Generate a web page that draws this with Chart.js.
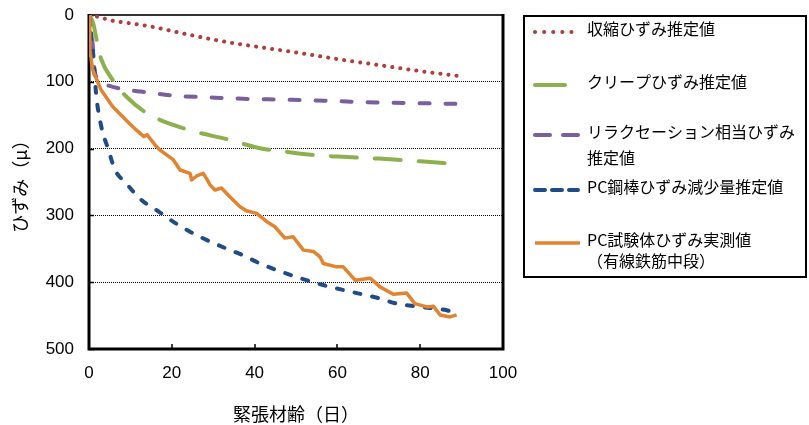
<!DOCTYPE html>
<html>
<head>
<meta charset="utf-8">
<script src="https://cdn.jsdelivr.net/npm/chart.js@4.4.1/dist/chart.umd.min.js"></script>
<style>
  html, body { margin: 0; background: #fff; }
  canvas { display: block; }
</style>
</head>
<body>
<canvas id="chart" width="809" height="425"></canvas>
<script>
// 読み取り値（日, μ）
var shrinkDays = [0, 2, 6, 10, 16, 20, 31, 40, 51, 60, 70, 80, 89];
var shrinkVals = [0, 2.5, 9, 12.5, 18.5, 24, 38, 47, 57, 66, 75, 84, 91];

var creepDays = [0, 1, 2, 3, 5.7, 9, 14, 23, 34, 41, 48, 55, 60, 70, 80, 88.5];
var creepVals = [0, 12, 42, 67, 97, 122, 147, 170, 187, 199, 205, 210, 212, 215, 219, 223];

var relaxDays = [0, 0.5, 0.9, 1.3, 2, 3, 6, 9, 13, 21, 28, 35, 49, 60, 70, 80, 88.5];
var relaxVals = [0, 25, 45, 80, 95, 101, 108, 112, 115, 121, 123, 125, 127, 129, 131, 132, 133];

var barDays = [0, 0.3, 1, 1.7, 2.9, 4.7, 6.3, 9, 12.3, 17, 22, 26.8, 33.3, 37.3, 41.3, 51, 57, 63, 70, 74.3, 80, 86.4, 88.5];
var barVals = [0, 17, 57, 117, 165, 202, 232, 252, 275, 295, 316, 332, 350, 360, 372, 394, 405, 414, 424, 432, 437, 442, 446];

var measDays = [0, 0.2, 0.9, 2.9, 5.7, 9.7, 11.4, 12.5, 13.3, 14, 16.3, 17.1, 20.4, 22, 24.4, 24.8, 26, 27.6, 28.5, 29.2, 30.4, 32, 34,
  36.5, 38, 40.5, 42.9, 44.9, 47.3, 49.3, 51.8, 54.2, 55.8, 56.6, 59.8, 61.4, 64.3, 67.9, 70.3, 73.5, 76.7, 78.7, 81.6, 83.2, 84.8, 87.2, 88.8];
var measVals = [0, 52, 82, 112, 137, 162, 172, 178, 182, 179, 197, 202, 217, 232, 237, 247, 241, 237, 246, 254, 262, 259, 272,
  287, 293, 297, 309, 317, 334, 332, 352, 354, 362, 372, 377, 377, 397, 394, 407, 418, 416, 432, 437, 436, 449, 452, 449];

var seriesLabels = [
  ["収縮ひずみ推定値"],
  ["クリープひずみ推定値"],
  ["リラクセーション相当ひずみ", "推定値"],
  ["PC鋼棒ひずみ減少量推定値"],
  ["PC試験体ひずみ実測値", "（有線鉄筋中段）"]
];

var xTicks = [0, 20, 40, 60, 80, 100];
var yTicks = [0, 100, 200, 300, 400, 500];

var xTitle = "緊張材齢（日）";
var yTitle = "ひずみ（μ）";

var numFont = "'Liberation Sans', Arial, sans-serif";
var jpFont = "'Noto Sans CJK JP', sans-serif";

function punkte(tage, werte) {
  return tage.map(function (t, i) { return { x: t, y: werte[i] }; });
}

// 凡例の位置（テキスト1行目のy, 行間）
var legendLayout = [
  { y: 29, gap: 0 },
  { y: 82, gap: 0 },
  { y: 132, gap: 26 },
  { y: 187, gap: 0 },
  { y: 240, gap: 21 }
];

var rahmenPlugin = {
  id: "rahmen",
  beforeDatasetsDraw: function (chart) {
    var ctx = chart.ctx;
    var a = chart.chartArea;
    var x = chart.scales.x;
    var y = chart.scales.y;
    ctx.save();
    ctx.strokeStyle = "#000";
    ctx.lineWidth = 1.5;
    ctx.beginPath();
    xTicks.forEach(function (v) {
      var px = Math.round(x.getPixelForValue(v));
      ctx.moveTo(px, a.bottom);
      ctx.lineTo(px, a.bottom - 5);
    });
    yTicks.forEach(function (v) {
      var py = Math.round(y.getPixelForValue(v)) + 0.5;
      ctx.moveTo(a.left, py);
      ctx.lineTo(a.left + 5, py);
    });
    ctx.stroke();

    // oben
    ctx.strokeStyle = "#333";
    ctx.lineWidth = 2;
    ctx.beginPath();
    ctx.moveTo(a.left, a.top);
    ctx.lineTo(a.right, a.top);
    ctx.stroke();

    // links, unten, rechts
    ctx.strokeStyle = "#000";
    ctx.lineWidth = 3;
    ctx.beginPath();
    ctx.moveTo(a.left, a.top - 1);
    ctx.lineTo(a.left, a.bottom);
    ctx.lineTo(a.right, a.bottom);
    ctx.lineTo(a.right, a.top - 1);
    ctx.stroke();
    ctx.restore();
  }
};

var legendePlugin = {
  id: "legende",
  afterDraw: function (chart) {
    var ctx = chart.ctx;
    ctx.save();
    ctx.strokeStyle = "#000";
    ctx.lineWidth = 2;
    ctx.strokeRect(524, 16, 282, 261);

    chart.data.datasets.forEach(function (ds, i) {
      var lay = legendLayout[i];
      var sy = lay.y + 3;
      ctx.strokeStyle = ds.borderColor;
      ctx.lineWidth = ds.borderWidth;
      ctx.lineCap = ds.borderCapStyle || "butt";
      ctx.setLineDash(ds.legendDash || []);
      ctx.beginPath();
      ctx.moveTo(535, sy);
      ctx.lineTo(ds.legendEnd || 578, sy);
      ctx.stroke();

      ctx.setLineDash([]);
      ctx.fillStyle = "#000";
      ctx.font = "16px " + jpFont;
      ctx.textBaseline = "middle";
      ctx.textAlign = "left";
      seriesLabels[i].forEach(function (zeile, k) {
        ctx.fillText(zeile, 587, lay.y + k * lay.gap);
      });
    });
    ctx.restore();
  }
};

var ctx = document.getElementById("chart").getContext("2d");
window.chartHaupt = new Chart(ctx, {
  type: "line",
  data: {
    datasets: [
      {
        label: seriesLabels[0].join(""),
        data: punkte(shrinkDays, shrinkVals),
        borderColor: "#B23C3A",
        borderWidth: 4,
        borderDash: [0.1, 8],
        borderCapStyle: "round",
        legendDash: [0.1, 9],
        cubicInterpolationMode: "monotone",
        pointRadius: 0,
        order: 4
      },
      {
        label: seriesLabels[1].join(""),
        data: punkte(creepDays, creepVals),
        borderColor: "#8DB04E",
        borderWidth: 4,
        borderDash: [26, 18],
        borderCapStyle: "round",
        legendDash: [],
        legendEnd: 565,
        cubicInterpolationMode: "monotone",
        pointRadius: 0,
        order: 3
      },
      {
        label: seriesLabels[2].join(""),
        data: punkte(relaxDays, relaxVals),
        borderColor: "#7B5E9C",
        borderWidth: 4,
        borderDash: [10, 16],
        borderCapStyle: "round",
        legendDash: [15, 13],
        cubicInterpolationMode: "monotone",
        pointRadius: 0,
        order: 2
      },
      {
        label: seriesLabels[3].join(""),
        data: punkte(barDays, barVals),
        borderColor: "#1F4C86",
        borderWidth: 4,
        borderDash: [6, 12],
        borderCapStyle: "round",
        legendDash: [10, 7],
        cubicInterpolationMode: "monotone",
        pointRadius: 0,
        order: 1
      },
      {
        label: seriesLabels[4].join(""),
        data: punkte(measDays, measVals),
        borderColor: "#E2832F",
        borderWidth: 3.5,
        borderJoinStyle: "round",
        legendDash: [],
        legendEnd: 580,
        tension: 0,
        pointRadius: 0,
        order: 0
      }
    ]
  },
  options: {
    responsive: false,
    animation: false,
    layout: {
      padding: { top: 15, right: 306, left: 0, bottom: 0 }
    },
    plugins: {
      legend: { display: false },
      tooltip: { enabled: false }
    },
    scales: {
      x: {
        type: "linear",
        min: 0,
        max: 100,
        afterFit: function (s) { s.height = 76; },
        afterBuildTicks: function (s) { s.ticks = xTicks.map(function (v) { return { value: v }; }); },
        grid: { display: false },
        border: { display: false },
        ticks: {
          color: "#000",
          padding: 6,
          maxRotation: 0,
          font: { family: numFont, size: 17 }
        },
        title: {
          display: true,
          text: xTitle,
          color: "#000",
          padding: { top: 0, bottom: 0 },
          font: { family: jpFont, size: 18 }
        }
      },
      y: {
        type: "linear",
        reverse: true,
        min: 0,
        max: 500,
        afterFit: function (s) {
          s.width = 89;
          s.paddingTop = 0;
          s.paddingBottom = 0;
        },
        afterBuildTicks: function (s) { s.ticks = yTicks.map(function (v) { return { value: v }; }); },
        grid: {
          color: "#000",
          lineWidth: 1,
          drawTicks: false
        },
        border: { display: false, dash: [1, 1] },
        ticks: {
          color: "#000",
          padding: 15,
          font: { family: numFont, size: 17 }
        },
        title: {
          display: true,
          text: yTitle,
          color: "#000",
          padding: { top: 9, bottom: 0 },
          font: { family: jpFont, size: 18 }
        }
      }
    }
  },
  plugins: [rahmenPlugin, legendePlugin]
});
</script>
</body>
</html>
